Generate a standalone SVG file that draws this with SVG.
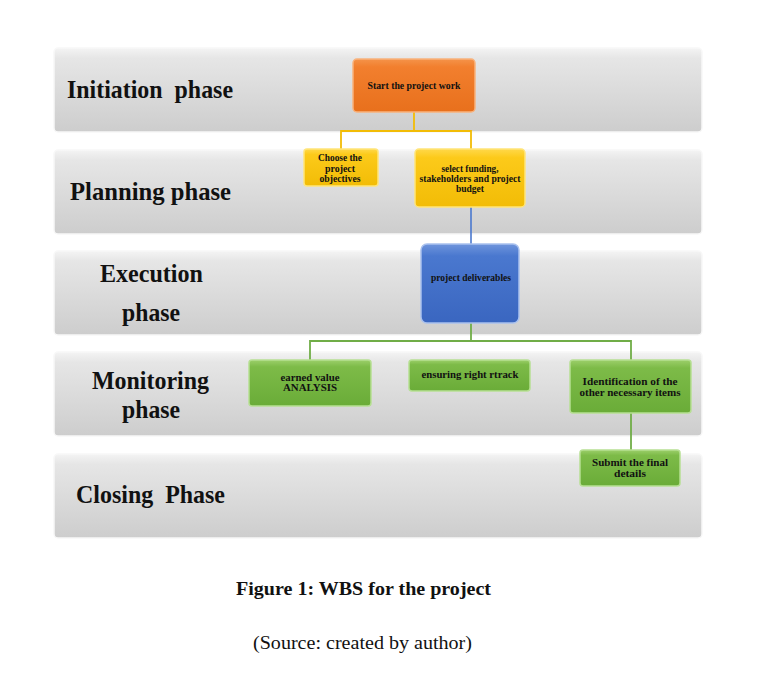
<svg xmlns="http://www.w3.org/2000/svg" width="760" height="677" viewBox="0 0 760 677">
<defs>
<linearGradient id="band" x1="0" y1="0" x2="0" y2="1">
<stop offset="0" stop-color="#f4f4f4"/>
<stop offset="0.12" stop-color="#e6e6e6"/>
<stop offset="1" stop-color="#cdcdcd"/>
</linearGradient>
<linearGradient id="orange" x1="0" y1="0" x2="0" y2="1">
<stop offset="0" stop-color="#f5934a"/>
<stop offset="0.15" stop-color="#f27f2e"/>
<stop offset="1" stop-color="#e8701c"/>
</linearGradient>
<linearGradient id="yellow" x1="0" y1="0" x2="0" y2="1">
<stop offset="0" stop-color="#ffd84a"/>
<stop offset="0.15" stop-color="#fcca1a"/>
<stop offset="1" stop-color="#f2bc06"/>
</linearGradient>
<linearGradient id="blue" x1="0" y1="0" x2="0" y2="1">
<stop offset="0" stop-color="#6f95dc"/>
<stop offset="0.15" stop-color="#4a78cf"/>
<stop offset="1" stop-color="#3a66c0"/>
</linearGradient>
<linearGradient id="green" x1="0" y1="0" x2="0" y2="1">
<stop offset="0" stop-color="#9ccf6a"/>
<stop offset="0.15" stop-color="#7dbb48"/>
<stop offset="1" stop-color="#6aac38"/>
</linearGradient>
<style>
.band{fill:url(#band);stroke:#f8f8f8;stroke-width:1.5}
.phase{font-family:"Liberation Serif","Times New Roman",serif;font-weight:bold;font-size:26px;fill:#111}
.nt{font-family:"Liberation Serif","Times New Roman",serif;font-weight:bold;font-size:10.5px;fill:#111;text-anchor:middle}
.box{stroke-width:1.5}
.y{stroke:#f2bc06;stroke-width:1.8;fill:none}
.b{stroke:#4a78cf;stroke-width:1.6;fill:none}
.g{stroke:#70ad47;stroke-width:1.8;fill:none}
.cap{font-family:"Liberation Serif","Times New Roman",serif;font-size:18px;fill:#111;text-anchor:middle}
</style>
</defs>
<rect width="760" height="677" fill="#fff"/>
<g id="bands">
<rect class="band" x="54" y="48" width="648" height="84" rx="4"/>
<rect class="band" x="54" y="150" width="648" height="84" rx="4"/>
<rect class="band" x="54" y="251" width="648" height="84" rx="4"/>
<rect class="band" x="54" y="352" width="648" height="84" rx="4"/>
<rect class="band" x="54" y="454" width="648" height="84" rx="4"/>
</g>
<g id="phase-labels">
<text class="phase" x="67" y="98" textLength="166" lengthAdjust="spacingAndGlyphs" xml:space="preserve">Initiation  phase</text>
<text class="phase" x="70" y="200" textLength="161" lengthAdjust="spacingAndGlyphs">Planning phase</text>
<text class="phase" x="100" y="282" textLength="103" lengthAdjust="spacingAndGlyphs">Execution</text>
<text class="phase" x="122" y="321" textLength="58" lengthAdjust="spacingAndGlyphs">phase</text>
<text class="phase" x="92" y="389" textLength="117" lengthAdjust="spacingAndGlyphs">Monitoring</text>
<text class="phase" x="122" y="418" textLength="58" lengthAdjust="spacingAndGlyphs">phase</text>
<text class="phase" x="76" y="503" textLength="149" lengthAdjust="spacingAndGlyphs" xml:space="preserve">Closing  Phase</text>
</g>
<g id="connectors">
<path class="y" d="M414 112 V131 M341 149 V131 H471 V149"/>
<path class="b" d="M471 207 V244"/>
<path class="g" d="M471 323 V341 M310 360 V341 H631 V360"/>
<path class="g" d="M631 413 V450"/>
</g>
<g id="n-start">
<rect class="box" x="353" y="59" width="122" height="53" rx="4" fill="url(#orange)" stroke="#f9b27c"/>
<text class="nt" x="414" y="89" textLength="93" lengthAdjust="spacingAndGlyphs">Start the project work</text>
</g>
<g id="n-objectives">
<rect class="box" x="304" y="149" width="74" height="37" rx="3" fill="url(#yellow)" stroke="#ffe57a"/>
<text class="nt" x="340" y="161" textLength="44" lengthAdjust="spacingAndGlyphs">Choose the</text>
<text class="nt" x="340" y="172" textLength="30" lengthAdjust="spacingAndGlyphs">project</text>
<text class="nt" x="340" y="182" textLength="41" lengthAdjust="spacingAndGlyphs">objectives</text>
</g>
<g id="n-funding">
<rect class="box" x="415" y="149" width="110" height="58" rx="4" fill="url(#yellow)" stroke="#ffe57a"/>
<text class="nt" x="470" y="172" textLength="57" lengthAdjust="spacingAndGlyphs">select funding,</text>
<text class="nt" x="470" y="182" textLength="101" lengthAdjust="spacingAndGlyphs">stakeholders and project</text>
<text class="nt" x="470" y="192" textLength="28" lengthAdjust="spacingAndGlyphs">budget</text>
</g>
<g id="n-deliverables">
<rect class="box" x="421" y="244" width="98" height="79" rx="6" fill="url(#blue)" stroke="#a9c1ee"/>
<text class="nt" x="471" y="281" textLength="80" lengthAdjust="spacingAndGlyphs">project deliverables</text>
</g>
<g id="n-earned">
<rect class="box" x="249" y="360" width="122" height="46" rx="3" fill="url(#green)" stroke="#b6df92"/>
<text class="nt" x="310" y="381" textLength="59" lengthAdjust="spacingAndGlyphs">earned value</text>
<text class="nt" x="310" y="391" textLength="54" lengthAdjust="spacingAndGlyphs">ANALYSIS</text>
</g>
<g id="n-track">
<rect class="box" x="409" y="360" width="121" height="31" rx="3" fill="url(#green)" stroke="#b6df92"/>
<text class="nt" x="470" y="378" textLength="97" lengthAdjust="spacingAndGlyphs">ensuring right rtrack</text>
</g>
<g id="n-identification">
<rect class="box" x="570" y="360" width="121" height="53" rx="3" fill="url(#green)" stroke="#b6df92"/>
<text class="nt" x="630" y="385" textLength="95" lengthAdjust="spacingAndGlyphs">Identification of the</text>
<text class="nt" x="630" y="396" textLength="101" lengthAdjust="spacingAndGlyphs">other necessary items</text>
</g>
<g id="n-submit">
<rect class="box" x="580" y="450" width="100" height="36" rx="3" fill="url(#green)" stroke="#b6df92"/>
<text class="nt" x="630" y="466" textLength="76" lengthAdjust="spacingAndGlyphs">Submit the final</text>
<text class="nt" x="630" y="477" textLength="32" lengthAdjust="spacingAndGlyphs">details</text>
</g>
<g id="caption">
<text class="cap" x="363.5" y="595" font-weight="bold" textLength="255" lengthAdjust="spacingAndGlyphs">Figure 1: WBS for the project</text>
<text class="cap" x="362.5" y="649" textLength="219" lengthAdjust="spacingAndGlyphs">(Source: created by author)</text>
</g>
</svg>
